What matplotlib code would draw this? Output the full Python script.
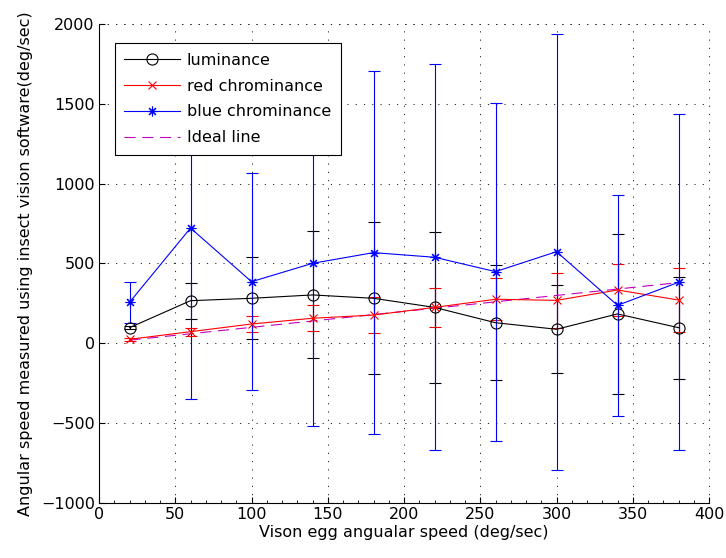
import matplotlib
matplotlib.use("Agg")
from matplotlib import pyplot as plt
from matplotlib.lines import Line2D
from matplotlib.ticker import MultipleLocator

plt.rcParams['font.family'] = ['DejaVu Sans']

# stimulus speeds
speeds = [20, 60, 100, 140, 180, 220, 260, 300, 340, 380]

# measured speeds and their spreads
lum = [98, 267, 282, 303, 282, 225, 129, 88, 184, 98]
lum_err = [10, 112, 257, 398, 477, 472, 360, 275, 500, 320]
red = [25, 73, 121, 157, 177, 225, 276, 269, 334, 271]
red_err = [8, 26, 49, 80, 112, 122, 133, 173, 164, 199]
blue = [257, 722, 386, 501, 568, 539, 449, 574, 238, 382]
blue_err = [128, 1073, 679, 1017, 1139, 1210, 1058, 1366, 694, 1053]
ideal = [20, 60, 100, 140, 180, 220, 260, 300, 340, 380]

fs = 11.5
star = (8, 2, 0)
dash = (0, (10, 6))
grid_ls = (0, (1.2, 7.3))

fig = plt.figure(figsize=(7.26, 5.58), dpi=100)
ax = fig.add_axes([0.1364, 0.0986, 0.8402, 0.8584])

ax.errorbar(speeds, lum, yerr=lum_err, color='k', marker='o', ms=8,
            mfc='none', mew=0.8, lw=0.8, elinewidth=0.8, capsize=4)
ax.errorbar(speeds, red, yerr=red_err, color='r', marker='x', ms=6,
            mew=0.8, lw=0.8, elinewidth=0.8, capsize=4)
ax.errorbar(speeds, blue, yerr=blue_err, color='b', marker=star, ms=7,
            mew=0.8, lw=0.8, elinewidth=0.8, capsize=4)
ax.plot(speeds, ideal, color='m', ls=dash, lw=0.8)

ax.set_xlim(0, 400)
ax.set_ylim(-1000, 2000)
ax.xaxis.set_major_locator(MultipleLocator(50))
ax.yaxis.set_major_locator(MultipleLocator(500))
ax.xaxis.set_minor_locator(MultipleLocator(10))
ax.tick_params(which='both', direction='in', labelsize=fs,
               top=False, right=False)
ax.tick_params(which='major', length=4, pad=3)
ax.tick_params(which='minor', length=2)
ax.tick_params(axis='y', which='minor', left=False)

for s in ['top', 'right']:
    ax.spines[s].set_visible(False)
ax.grid(True, ls=grid_ls, color='0.15', lw=0.7)
# dotted border where the box is off
ax.axhline(2000, ls=grid_ls, color='0.15', lw=0.7, clip_on=False)
ax.axvline(400, ls=grid_ls, color='0.15', lw=0.7, clip_on=False)

ax.set_xlabel('Vison egg angualar speed (deg/sec)', fontsize=fs, labelpad=2)
ax.set_ylabel('Angular speed measured using insect vision software(deg/sec)',
              fontsize=fs, labelpad=6)

handles = [
    Line2D([], [], color='k', marker='o', ms=8, mfc='none', mew=0.8, lw=0.8),
    Line2D([], [], color='r', marker='x', ms=6, mew=0.8, lw=0.8),
    Line2D([], [], color='b', marker=star, ms=7, mew=0.8, lw=0.8),
    Line2D([], [], color='m', ls=dash, lw=0.8),
]
labels = ['luminance', 'red chrominance', 'blue chrominance', 'Ideal line']
leg = ax.legend(handles, labels, loc='upper left',
                bbox_to_anchor=(0.026, 0.960), fontsize=fs,
                fancybox=False, framealpha=1, edgecolor='k',
                handlelength=3.45, handletextpad=0.45, borderpad=0.6,
                labelspacing=0.68, borderaxespad=0)
leg.get_frame().set_linewidth(0.8)

plt.savefig('out.png', dpi=100)
